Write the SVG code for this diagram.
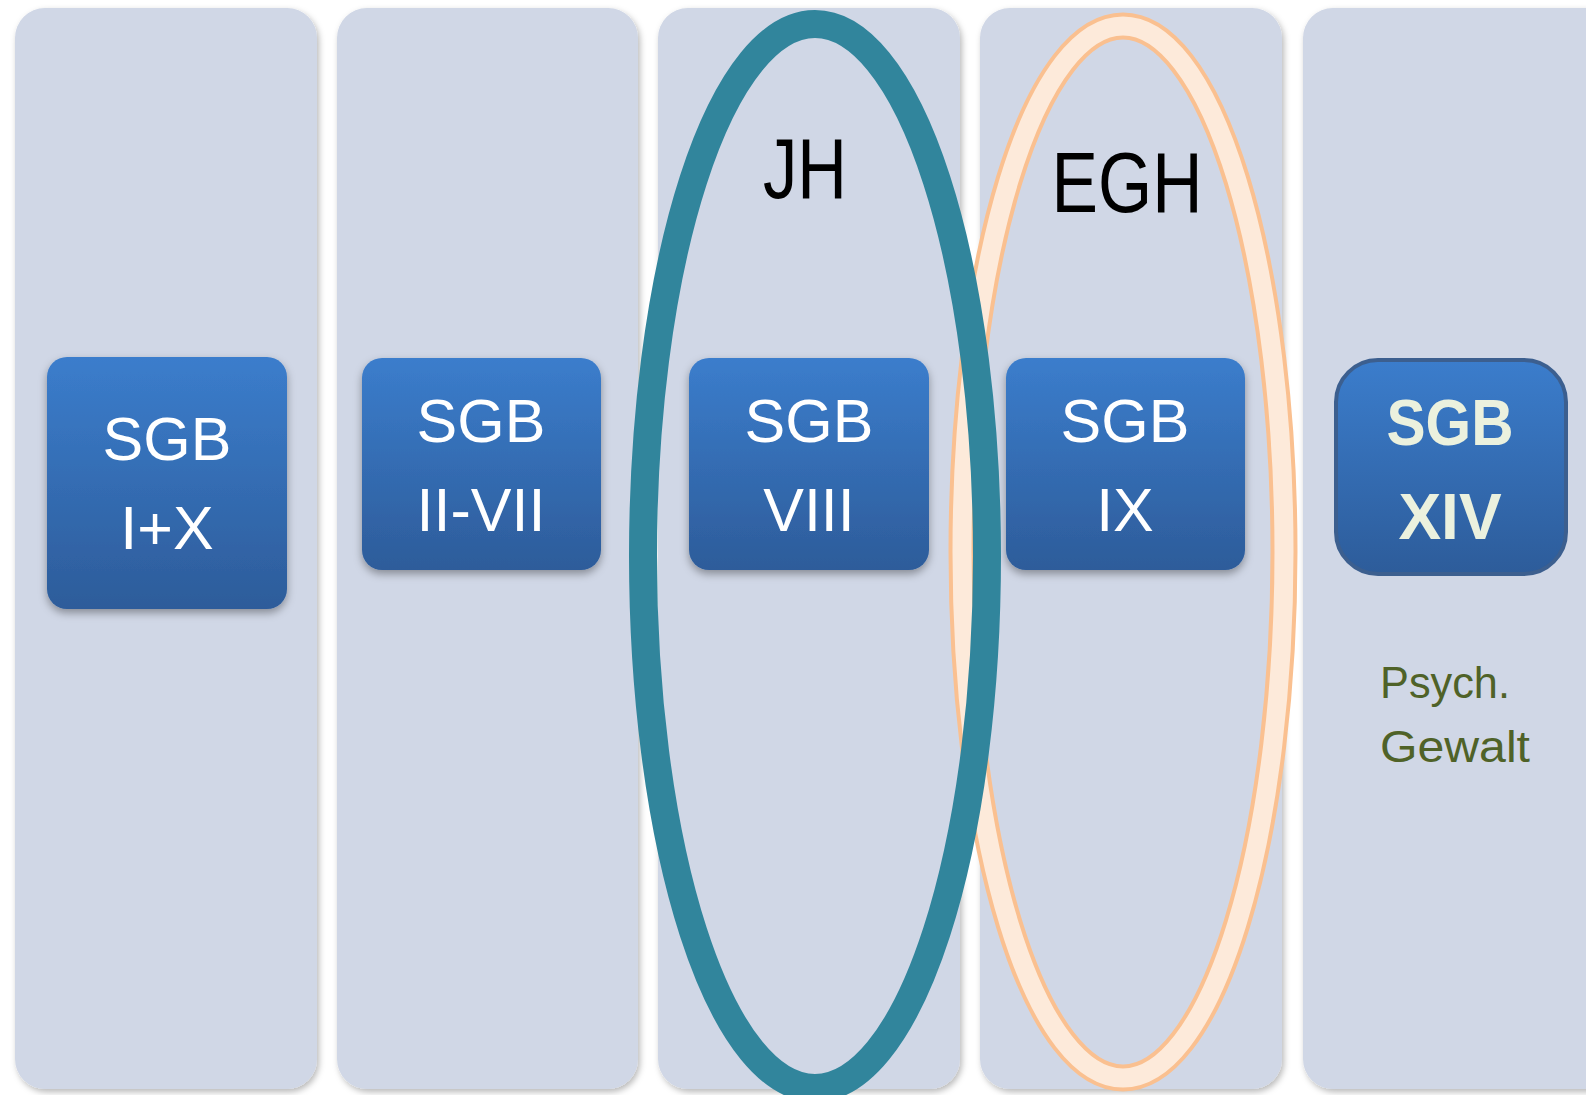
<svg xmlns="http://www.w3.org/2000/svg" width="1586" height="1095" viewBox="0 0 1586 1095">
  <defs>
    <linearGradient id="boxGrad" x1="0" y1="0" x2="0" y2="1">
      <stop offset="0" stop-color="#3B7DCC"/>
      <stop offset="1" stop-color="#2D5C9A"/>
    </linearGradient>
    <filter id="colShadow" x="-5%" y="-5%" width="112%" height="110%">
      <feDropShadow dx="2" dy="3" stdDeviation="3" flood-color="#000" flood-opacity="0.28"/>
    </filter>
    <filter id="boxShadow" x="-10%" y="-10%" width="125%" height="130%">
      <feDropShadow dx="0" dy="4" stdDeviation="4" flood-color="#000" flood-opacity="0.35"/>
    </filter>
  </defs>
  <style>
    .col { fill: #D0D7E6; filter: url(#colShadow); }
    .box { fill: url(#boxGrad); filter: url(#boxShadow); }
    .box5 { fill: url(#boxGrad); stroke: #3C5F8F; stroke-width: 4; }
    .bt { font-family: "Liberation Sans", Arial, sans-serif; font-size: 61px; fill: #FFFFFF; text-anchor: middle; }
    .bt5 { font-family: "Liberation Sans", Arial, sans-serif; font-size: 64px; font-weight: bold; fill: #EBF1DE; text-anchor: middle; }
    .big { font-family: "Liberation Sans", Arial, sans-serif; font-size: 85px; fill: #000000; text-anchor: middle; }
    .note { font-family: "Liberation Sans", Arial, sans-serif; font-size: 44px; fill: #4F6228; }
  </style>

  <g id="columns">
    <rect id="col1" class="col" x="15" y="8" width="302" height="1081" rx="30"/>
    <rect id="col2" class="col" x="337" y="8" width="301" height="1081" rx="30"/>
    <rect id="col3" class="col" x="658" y="8" width="302" height="1081" rx="30"/>
    <rect id="col4" class="col" x="980" y="8" width="302" height="1081" rx="30"/>
    <rect id="col5" class="col" x="1303" y="8" width="320" height="1081" rx="30"/>
  </g>

  <g id="node-sgb-1-10">
    <rect class="box" x="47" y="357" width="240" height="252" rx="20"/>
    <text class="bt" x="167" y="460">SGB</text>
    <text class="bt" x="167" y="549">I+X</text>
  </g>
  <g id="node-sgb-2-7">
    <rect class="box" x="362" y="358" width="239" height="212" rx="20"/>
    <text class="bt" x="481" y="442">SGB</text>
    <text class="bt" x="481" y="531">II-VII</text>
  </g>
  <g id="node-sgb-8">
    <rect class="box" x="689" y="358" width="240" height="212" rx="20"/>
    <text class="bt" x="809" y="442">SGB</text>
    <text class="bt" x="809" y="531">VIII</text>
  </g>
  <g id="node-sgb-9">
    <rect class="box" x="1006" y="358" width="239" height="212" rx="20"/>
    <text class="bt" x="1125" y="442">SGB</text>
    <text class="bt" x="1125" y="531">IX</text>
  </g>
  <g id="node-sgb-14">
    <rect class="box5" x="1336" y="360" width="230" height="214" rx="42"/>
    <text class="bt5" x="1450" y="445" textLength="127" lengthAdjust="spacingAndGlyphs">SGB</text>
    <text class="bt5" x="1450" y="539">XIV</text>
    <text class="note" x="1380" y="698" textLength="130" lengthAdjust="spacingAndGlyphs">Psych.</text>
    <text class="note" x="1380" y="762" textLength="150" lengthAdjust="spacingAndGlyphs">Gewalt</text>
  </g>

  <g id="connectors">
    <g id="egh-ellipse">
      <ellipse cx="1123" cy="552" rx="161" ry="526" fill="none" stroke="#FAC090" stroke-width="27"/>
      <ellipse cx="1123" cy="552" rx="161" ry="526" fill="none" stroke="#FDEADA" stroke-width="19"/>
    </g>
    <g id="jh-ellipse">
      <ellipse cx="815" cy="556" rx="172" ry="532" fill="none" stroke="#31859C" stroke-width="28"/>
    </g>
  </g>

  <g id="label-jh">
    <text class="big" x="805" y="198" textLength="84" lengthAdjust="spacingAndGlyphs">JH</text>
  </g>
  <g id="label-egh">
    <text class="big" x="1127" y="212" textLength="151" lengthAdjust="spacingAndGlyphs">EGH</text>
  </g>
</svg>
